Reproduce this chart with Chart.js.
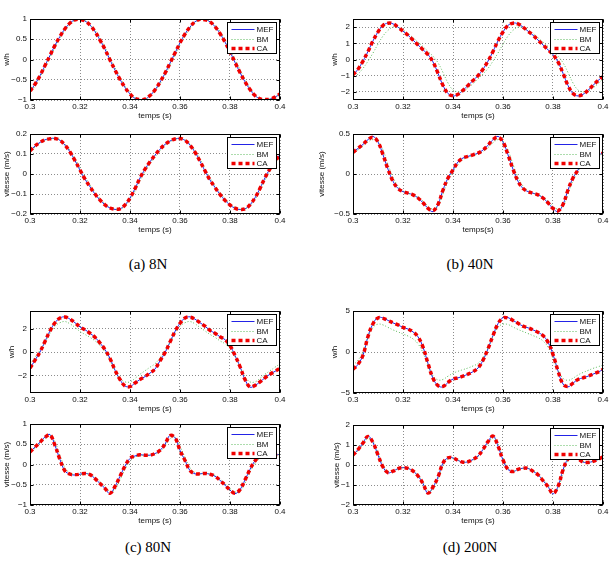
<!DOCTYPE html>
<html><head><meta charset="utf-8">
<script src="https://cdn.jsdelivr.net/npm/chart.js@4.4.1/dist/chart.umd.min.js"></script>
<style>
html,body{margin:0;padding:0;background:#fff;}
body{width:615px;height:570px;position:relative;overflow:hidden;}
canvas{position:absolute;}
.cap{position:absolute;font-family:"Liberation Serif",serif;font-size:15px;color:#000;transform:translateX(-50%);white-space:nowrap;line-height:1;}
</style></head><body>
<div class="cap" style="left:148px;top:257px">(a) 8N</div>
<div class="cap" style="left:470px;top:257px">(b) 40N</div>
<div class="cap" style="left:148px;top:540px">(c) 80N</div>
<div class="cap" style="left:470px;top:540px">(d) 200N</div>
<script>
// ---------- data ----------
const temps = [0.300,0.302,0.304,0.306,0.308,0.310,0.312,0.314,0.316,0.318,0.320,0.322,0.324,0.326,0.328,0.330,0.332,0.334,0.336,0.338,0.340,0.342,0.344,0.346,0.348,0.350,0.352,0.354,0.356,0.358,0.360,0.362,0.364,0.366,0.368,0.370,0.372,0.374,0.376,0.378,0.380,0.382,0.384,0.386,0.388,0.390,0.392,0.394,0.396,0.398,0.400];
const xTicks = [0.3,0.32,0.34,0.36,0.38,0.4];

// (a) 8N
const mef8N_w = [-0.79,-0.61,-0.40,-0.15,0.10,0.35,0.57,0.76,0.90,0.98,1.00,0.95,0.85,0.69,0.48,0.25,-0.01,-0.26,-0.49,-0.69,-0.85,-0.96,-1.00,-0.98,-0.89,-0.75,-0.56,-0.34,-0.09,0.16,0.41,0.63,0.80,0.93,0.99,0.99,0.93,0.81,0.64,0.43,0.19,-0.07,-0.32,-0.55,-0.74,-0.89,-0.97,-1.00,-0.98,-0.93,-0.85];
const bm8N_w  = [-0.82,-0.65,-0.44,-0.20,0.05,0.30,0.53,0.72,0.87,0.97,0.99,0.96,0.86,0.72,0.53,0.30,0.05,-0.21,-0.44,-0.66,-0.82,-0.94,-0.99,-0.98,-0.91,-0.78,-0.60,-0.39,-0.14,0.11,0.36,0.58,0.77,0.91,0.98,0.99,0.95,0.85,0.69,0.49,0.25,0.00,-0.25,-0.49,-0.70,-0.86,-0.96,-0.99,-0.98,-0.94,-0.87];
const ca8N_w  = [-0.78,-0.61,-0.40,-0.15,0.10,0.35,0.57,0.76,0.90,0.98,0.99,0.95,0.85,0.69,0.48,0.25,-0.01,-0.26,-0.49,-0.69,-0.85,-0.96,-0.99,-0.98,-0.89,-0.75,-0.56,-0.34,-0.09,0.16,0.41,0.63,0.80,0.93,0.99,0.98,0.93,0.81,0.64,0.43,0.19,-0.07,-0.32,-0.55,-0.74,-0.89,-0.97,-0.99,-0.98,-0.93,-0.85];
const mef8N_v = [0.115,0.140,0.158,0.171,0.177,0.178,0.168,0.144,0.110,0.067,0.019,-0.026,-0.064,-0.100,-0.130,-0.154,-0.170,-0.177,-0.174,-0.155,-0.120,-0.073,-0.020,0.024,0.061,0.094,0.124,0.148,0.165,0.175,0.178,0.168,0.144,0.109,0.064,0.015,-0.030,-0.067,-0.102,-0.132,-0.155,-0.171,-0.178,-0.174,-0.154,-0.119,-0.072,-0.019,0.026,0.062,0.098];
const bm8N_v  = [0.108,0.134,0.154,0.168,0.176,0.178,0.172,0.150,0.118,0.078,0.031,-0.015,-0.054,-0.091,-0.122,-0.148,-0.166,-0.175,-0.176,-0.160,-0.129,-0.085,-0.033,0.013,0.052,0.086,0.116,0.142,0.161,0.173,0.178,0.171,0.150,0.118,0.075,0.027,-0.019,-0.058,-0.093,-0.124,-0.149,-0.167,-0.176,-0.175,-0.159,-0.128,-0.084,-0.032,0.014,0.053,0.090];
const ca8N_v  = [0.116,0.140,0.158,0.171,0.176,0.177,0.168,0.144,0.110,0.067,0.020,-0.026,-0.064,-0.100,-0.130,-0.154,-0.170,-0.176,-0.174,-0.155,-0.120,-0.073,-0.020,0.024,0.061,0.094,0.124,0.148,0.165,0.175,0.177,0.168,0.144,0.109,0.064,0.016,-0.030,-0.067,-0.102,-0.132,-0.155,-0.171,-0.177,-0.174,-0.154,-0.119,-0.072,-0.019,0.026,0.062,0.098];

// (b) 40N
const mef40N_w = [-0.95,-0.6,-0.1,0.5,1.15,1.7,2.1,2.25,2.2,2.0,1.75,1.5,1.2,0.9,0.6,0.3,-0.15,-0.85,-1.6,-2.1,-2.25,-2.15,-1.9,-1.6,-1.3,-1.0,-0.6,-0.1,0.5,1.15,1.7,2.1,2.25,2.2,2.0,1.75,1.5,1.2,0.9,0.6,0.3,-0.15,-0.85,-1.6,-2.1,-2.25,-2.15,-1.9,-1.6,-1.3,-1.05];
const bm40N_w  = [-1.2,-0.9,-0.55,-0.1,0.4,0.95,1.45,1.8,2.0,1.98,1.82,1.6,1.35,1.08,0.8,0.5,0.2,-0.2,-0.8,-1.45,-1.88,-2.0,-1.95,-1.75,-1.5,-1.2,-0.9,-0.55,-0.1,0.4,0.95,1.45,1.8,2.0,1.98,1.82,1.6,1.35,1.08,0.8,0.5,0.2,-0.2,-0.8,-1.45,-1.88,-2.0,-1.95,-1.75,-1.5,-1.2];
const ca40N_w  = [-0.95,-0.6,-0.1,0.5,1.15,1.7,2.1,2.24,2.2,2.0,1.75,1.5,1.2,0.9,0.6,0.3,-0.15,-0.85,-1.6,-2.1,-2.24,-2.15,-1.9,-1.6,-1.3,-1.0,-0.6,-0.1,0.5,1.15,1.7,2.1,2.24,2.2,2.0,1.75,1.5,1.2,0.9,0.6,0.3,-0.15,-0.85,-1.6,-2.1,-2.24,-2.15,-1.9,-1.6,-1.3,-1.05];
const mef40N_v = [0.27,0.32,0.37,0.43,0.47,0.40,0.24,0.06,-0.09,-0.18,-0.22,-0.24,-0.26,-0.30,-0.36,-0.43,-0.47,-0.38,-0.20,-0.05,0.05,0.15,0.20,0.22,0.24,0.26,0.30,0.36,0.43,0.47,0.40,0.24,0.06,-0.09,-0.18,-0.22,-0.24,-0.26,-0.30,-0.36,-0.43,-0.47,-0.38,-0.20,-0.05,0.05,0.15,0.20,0.22,0.24,0.26];
const bm40N_v  = [0.25,0.30,0.35,0.40,0.43,0.41,0.30,0.12,-0.04,-0.15,-0.21,-0.24,-0.26,-0.29,-0.34,-0.40,-0.44,-0.40,-0.25,-0.08,0.03,0.12,0.18,0.21,0.23,0.25,0.28,0.33,0.39,0.43,0.41,0.30,0.12,-0.04,-0.15,-0.21,-0.24,-0.26,-0.29,-0.34,-0.40,-0.44,-0.40,-0.25,-0.08,0.03,0.12,0.18,0.21,0.23,0.25];
const ca40N_v  = [0.27,0.32,0.37,0.43,0.46,0.40,0.24,0.06,-0.09,-0.18,-0.22,-0.24,-0.26,-0.30,-0.36,-0.43,-0.46,-0.38,-0.20,-0.05,0.05,0.15,0.20,0.22,0.24,0.26,0.30,0.36,0.43,0.46,0.40,0.24,0.06,-0.09,-0.18,-0.22,-0.24,-0.26,-0.30,-0.36,-0.43,-0.46,-0.38,-0.20,-0.05,0.05,0.15,0.20,0.22,0.24,0.26];

// (c) 80N
const mef80N_w = [-1.40,-0.70,0.00,0.90,1.80,2.50,2.90,3.00,2.80,2.50,2.14,1.90,1.60,1.25,0.77,0.20,-0.55,-1.55,-2.35,-2.90,-2.95,-2.65,-2.35,-2.10,-1.80,-1.45,-0.75,-0.05,0.85,1.75,2.45,2.90,3.00,2.80,2.50,2.20,1.85,1.60,1.30,1.05,0.55,-0.30,-1.25,-2.35,-3.00,-2.85,-2.55,-2.20,-1.90,-1.65,-1.40];
const bm80N_w  = [-1.0,-0.45,0.15,0.85,1.6,2.2,2.5,2.6,2.4,2.1,1.75,1.5,1.25,0.95,0.55,0.0,-0.75,-1.6,-2.25,-2.55,-2.55,-2.25,-1.9,-1.6,-1.3,-1.0,-0.5,0.1,0.8,1.6,2.2,2.5,2.6,2.4,2.1,1.8,1.5,1.25,0.95,0.7,0.3,-0.4,-1.3,-2.1,-2.55,-2.55,-2.25,-1.9,-1.6,-1.3,-1.0];
const ca80N_w  = [-1.38,-0.70,0.00,0.90,1.80,2.50,2.90,2.98,2.80,2.50,2.14,1.90,1.60,1.25,0.77,0.20,-0.55,-1.55,-2.35,-2.90,-2.95,-2.65,-2.35,-2.10,-1.80,-1.45,-0.75,-0.05,0.85,1.75,2.45,2.90,2.98,2.80,2.50,2.20,1.85,1.60,1.30,1.05,0.55,-0.30,-1.25,-2.35,-2.98,-2.85,-2.55,-2.20,-1.90,-1.65,-1.40];
const mef80N_v = [0.31,0.43,0.55,0.68,0.74,0.47,0.12,-0.16,-0.24,-0.26,-0.24,-0.22,-0.25,-0.35,-0.47,-0.59,-0.72,-0.54,-0.29,-0.04,0.15,0.21,0.24,0.23,0.23,0.27,0.35,0.50,0.72,0.66,0.35,0.10,-0.15,-0.23,-0.23,-0.22,-0.24,-0.29,-0.39,-0.51,-0.63,-0.72,-0.62,-0.38,-0.12,0.09,0.19,0.24,0.24,0.24,0.25];
const bm80N_v  = [0.29,0.40,0.52,0.64,0.71,0.55,0.22,-0.08,-0.21,-0.25,-0.25,-0.23,-0.24,-0.31,-0.42,-0.54,-0.67,-0.62,-0.38,-0.12,0.08,0.18,0.22,0.23,0.23,0.25,0.32,0.46,0.63,0.68,0.45,0.18,-0.08,-0.20,-0.23,-0.22,-0.23,-0.27,-0.36,-0.47,-0.59,-0.68,-0.66,-0.46,-0.19,0.03,0.15,0.21,0.23,0.24,0.24];
const ca80N_v  = [0.31,0.43,0.55,0.67,0.73,0.47,0.12,-0.16,-0.24,-0.25,-0.24,-0.22,-0.25,-0.35,-0.47,-0.59,-0.71,-0.54,-0.29,-0.04,0.15,0.21,0.24,0.23,0.23,0.27,0.35,0.50,0.71,0.66,0.35,0.10,-0.15,-0.23,-0.23,-0.22,-0.24,-0.29,-0.39,-0.51,-0.63,-0.71,-0.62,-0.38,-0.12,0.09,0.19,0.24,0.24,0.24,0.25];

// (d) 200N
const mef200N_w = [-2.15,-1.5,-0.4,1.9,3.45,4.2,4.15,3.85,3.55,3.3,3.0,2.8,2.45,1.85,0.6,-1.4,-3.2,-4.1,-4.25,-3.7,-3.3,-3.15,-2.95,-2.7,-2.4,-1.95,-1.0,0.4,2.0,3.45,4.2,4.2,3.85,3.5,3.15,2.95,2.7,2.4,2.0,1.2,-0.3,-2.3,-3.9,-4.25,-3.8,-3.35,-3.15,-2.95,-2.7,-2.45,-2.15];
const bm200N_w  = [-1.6,-1.0,0.0,1.8,3.0,3.4,3.3,3.0,2.7,2.45,2.2,1.95,1.6,1.0,-0.1,-1.6,-2.9,-3.4,-3.35,-2.95,-2.6,-2.35,-2.15,-1.95,-1.7,-1.4,-0.7,0.5,1.9,3.0,3.4,3.35,3.05,2.75,2.5,2.25,2.0,1.75,1.35,0.6,-0.7,-2.2,-3.2,-3.45,-3.2,-2.8,-2.5,-2.25,-2.0,-1.8,-1.6];
const ca200N_w  = [-2.1,-1.5,-0.4,1.9,3.45,4.15,4.1,3.85,3.55,3.3,3.0,2.8,2.45,1.85,0.6,-1.4,-3.2,-4.1,-4.2,-3.7,-3.3,-3.15,-2.95,-2.7,-2.4,-1.95,-1.0,0.4,2.0,3.45,4.15,4.15,3.85,3.5,3.15,2.95,2.7,2.4,2.0,1.2,-0.3,-2.3,-3.9,-4.2,-3.8,-3.35,-3.15,-2.95,-2.7,-2.45,-2.15];
const mef200N_v = [0.49,0.77,1.10,1.45,1.12,0.50,-0.10,-0.39,-0.31,-0.18,-0.13,-0.17,-0.30,-0.55,-0.93,-1.42,-1.10,-0.60,0.10,0.36,0.35,0.23,0.14,0.16,0.28,0.45,0.78,1.17,1.46,0.95,0.25,-0.22,-0.33,-0.22,-0.16,-0.17,-0.31,-0.49,-0.78,-1.08,-1.44,-1.07,-0.25,0.30,0.39,0.31,0.15,0.13,0.18,0.28,0.41];
const bm200N_v  = [0.45,0.72,1.02,1.32,1.18,0.62,0.02,-0.32,-0.32,-0.20,-0.14,-0.16,-0.27,-0.50,-0.86,-1.28,-1.22,-0.72,-0.02,0.30,0.34,0.25,0.16,0.16,0.25,0.41,0.71,1.08,1.36,1.05,0.38,-0.14,-0.30,-0.24,-0.17,-0.17,-0.28,-0.45,-0.72,-1.02,-1.35,-1.17,-0.40,0.20,0.36,0.32,0.18,0.14,0.17,0.26,0.38];
const ca200N_v  = [0.49,0.77,1.10,1.43,1.12,0.50,-0.10,-0.38,-0.31,-0.18,-0.13,-0.17,-0.30,-0.55,-0.93,-1.40,-1.10,-0.60,0.10,0.36,0.35,0.23,0.14,0.16,0.28,0.45,0.78,1.17,1.44,0.95,0.25,-0.22,-0.33,-0.22,-0.16,-0.17,-0.31,-0.49,-0.78,-1.08,-1.42,-1.07,-0.25,0.30,0.39,0.31,0.15,0.13,0.18,0.28,0.41];

// tick values
const yTicks8N_w = [-1,-0.5,0,0.5,1];
const yTicks8N_v = [-0.2,-0.1,0,0.1,0.2];
const yTicks40N_w = [-2,-1,0,1,2];
const yTicks40N_v = [-0.5,0,0.5];
const yTicks80N_w = [-2,0,2];
const yTicks80N_v = [-1,-0.5,0,0.5,1];
const yTicks200N_w = [-5,0,5];
const yTicks200N_v = [-2,-1,0,1,2];
const seriesNames = ['MEF','BM','CA'];

// ---------- style ----------
const C_MEF = 'rgb(35,35,230)';
const C_BM = 'rgb(90,185,90)';
const C_CA = 'rgb(240,0,0)';
const GRID = 'rgba(0,0,0,0.45)';
const FONT = '"Liberation Sans", Arial, sans-serif';
Chart.defaults.font.family = FONT;
Chart.defaults.font.size = 8;
Chart.defaults.color = '#111';

const fmt = v => { const r = Math.round(v * 1000) / 1000; return (r < 0 ? '\u2212' : '') + String(Math.abs(r)); };

const framePlugin = {
  id: 'matlabFrame',
  afterDraw(chart) {
    const {ctx, chartArea: a, scales} = chart;
    const L = Math.round(a.left) + 0.5, R = Math.round(a.right) - 0.5;
    const T = Math.round(a.top) + 0.5, B = Math.round(a.bottom) - 0.5;
    ctx.save();
    ctx.setLineDash([]);
    ctx.strokeStyle = '#000'; ctx.lineWidth = 1;
    ctx.strokeRect(L, T, R - L, B - T);
    ctx.beginPath();
    scales.x.ticks.forEach(t => {
      const px = Math.round(scales.x.getPixelForValue(t.value)) + 0.5;
      ctx.moveTo(px, B); ctx.lineTo(px, B - 3);
      ctx.moveTo(px, T); ctx.lineTo(px, T + 3);
    });
    scales.y.ticks.forEach(t => {
      const py = Math.round(scales.y.getPixelForValue(t.value)) + 0.5;
      ctx.moveTo(L, py); ctx.lineTo(L + 3, py);
      ctx.moveTo(R, py); ctx.lineTo(R - 3, py);
    });
    ctx.stroke();
    // legend box
    const bw = 49, bh = 31;
    const bx = Math.round(a.right) - 4 - bw + 0.5, by = Math.round(a.top) + 3 + 0.5;
    ctx.fillStyle = '#fff'; ctx.fillRect(bx, by, bw, bh);
    ctx.strokeStyle = '#000'; ctx.lineWidth = 1; ctx.strokeRect(bx, by, bw, bh);
    const sty = [[C_MEF, 1, []], [C_BM, 1, [1, 2]], [C_CA, 3.5, [4, 3]]];
    seriesNames.forEach((name, i) => {
      const yy = Math.round(by + 6.5 + i * 9.7);
      ctx.strokeStyle = sty[i][0]; ctx.lineWidth = sty[i][1]; ctx.setLineDash(sty[i][2]);
      ctx.beginPath(); ctx.moveTo(bx + 4, yy + 0.5); ctx.lineTo(bx + 27, yy + 0.5); ctx.stroke();
      ctx.setLineDash([]);
      ctx.fillStyle = '#111'; ctx.font = '8px ' + FONT;
      ctx.textBaseline = 'middle'; ctx.textAlign = 'left';
      ctx.fillText(name, bx + 29, yy + 0.5);
    });
    ctx.restore();
  }
};

function makePlot(p) {
  const cv = document.createElement('canvas');
  cv.width = p.W; cv.height = p.H;
  cv.style.left = p.L + 'px'; cv.style.top = p.T + 'px';
  document.body.appendChild(cv);
  const mk = arr => temps.map((t, i) => ({x: t, y: arr[i]}));
  const axisCommon = {
    grid: {color: GRID, lineWidth: 1, drawTicks: false},
    border: {display: false, dash: [1, 2]}
  };
  new Chart(cv, {
    type: 'line',
    data: {datasets: [
      {label: seriesNames[0], data: mk(p.mef), borderColor: C_MEF, borderWidth: 1, order: 3},
      {label: seriesNames[1], data: mk(p.bm), borderColor: C_BM, borderWidth: 1, borderDash: [1, 2], order: 2},
      {label: seriesNames[2], data: mk(p.ca), borderColor: C_CA, borderWidth: 3.5, borderDash: [4, 3], order: 1}
    ]},
    options: {
      responsive: false, animation: false,
      elements: {point: {radius: 0}, line: {tension: 0.4, fill: false}},
      layout: {padding: {top: 8, right: 10, left: 0, bottom: 0}},
      plugins: {legend: {display: false}, tooltip: {enabled: false}},
      scales: {
        x: Object.assign({
          type: 'linear', min: 0.3, max: 0.4,
          afterFit: s => { s.height = 21; },
          afterBuildTicks: s => { s.ticks = xTicks.map(v => ({value: v})); },
          ticks: {callback: v => fmt(v), padding: 2, maxRotation: 0, autoSkip: false},
          title: {display: true, text: p.xTitle, padding: 0}
        }, axisCommon),
        y: Object.assign({
          type: 'linear', min: p.ymin, max: p.ymax,
          afterFit: s => { s.width = p.yW; },
          afterBuildTicks: s => { s.ticks = p.yTicks.map(v => ({value: v})); },
          ticks: {callback: v => fmt(v), padding: 3, autoSkip: false},
          title: {display: true, text: p.yTitle, padding: 0}
        }, axisCommon)
      }
    },
    plugins: [framePlugin]
  });
}

makePlot({L: 2,   T: 11,  W: 288, H: 110, yW: 28, mef: mef8N_w,   bm: bm8N_w,   ca: ca8N_w,   ymin: -1,   ymax: 1,   yTicks: yTicks8N_w,   yTitle: 'w/h', xTitle: 'temps (s)'});
makePlot({L: 2,   T: 126, W: 288, H: 109, yW: 28, mef: mef8N_v,   bm: bm8N_v,   ca: ca8N_v,   ymin: -0.2, ymax: 0.2, yTicks: yTicks8N_v,   yTitle: 'vitesse (m/s)', xTitle: 'temps (s)'});
makePlot({L: 330, T: 11,  W: 283, H: 110, yW: 23, mef: mef40N_w,  bm: bm40N_w,  ca: ca40N_w,  ymin: -2.5, ymax: 2.5, yTicks: yTicks40N_w,  yTitle: 'w/h', xTitle: 'temps (s)'});
makePlot({L: 317, T: 126, W: 296, H: 109, yW: 36, mef: mef40N_v,  bm: bm40N_v,  ca: ca40N_v,  ymin: -0.5, ymax: 0.5, yTicks: yTicks40N_v,  yTitle: 'vitesse (m/s)', xTitle: 'temps(s)'});
makePlot({L: 7,   T: 303, W: 283, H: 111, yW: 23, mef: mef80N_w,  bm: bm80N_w,  ca: ca80N_w,  ymin: -3.5, ymax: 3.5, yTicks: yTicks80N_w,  yTitle: 'w/h', xTitle: 'temps (s)'});
makePlot({L: 2,   T: 416, W: 288, H: 110, yW: 28, mef: mef80N_v,  bm: bm80N_v,  ca: ca80N_v,  ymin: -1,   ymax: 1,   yTicks: yTicks80N_v,  yTitle: 'vitesse (m/s)', xTitle: 'temps (s)'});
makePlot({L: 330, T: 303, W: 283, H: 111, yW: 23, mef: mef200N_w, bm: bm200N_w, ca: ca200N_w, ymin: -5,   ymax: 5,   yTicks: yTicks200N_w, yTitle: 'w/h', xTitle: 'temps (s)'});
makePlot({L: 332, T: 417, W: 281, H: 109, yW: 21, mef: mef200N_v, bm: bm200N_v, ca: ca200N_v, ymin: -2,   ymax: 2,   yTicks: yTicks200N_v, yTitle: 'vitesse (m/s)', xTitle: 'temps (s)'});
</script>
</body></html>
